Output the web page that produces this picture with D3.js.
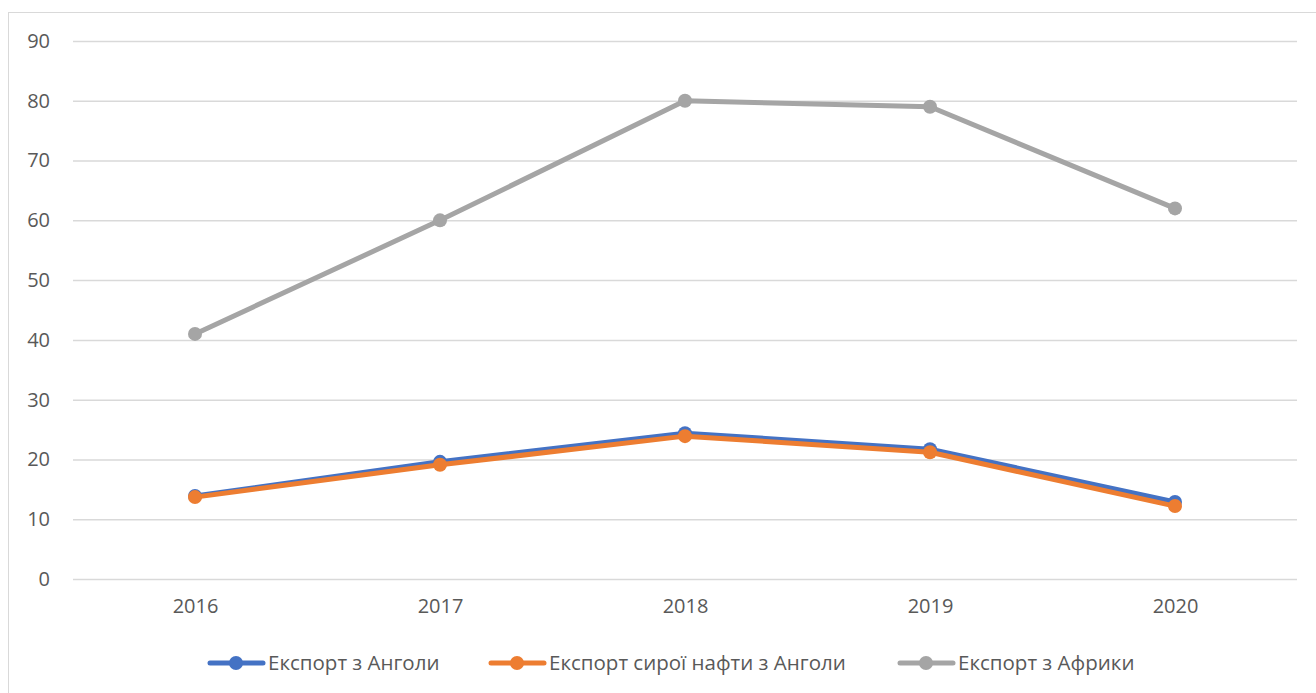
<!DOCTYPE html>
<html><head><meta charset="utf-8">
<script src="https://cdn.jsdelivr.net/npm/d3@7"></script>
<style>body{margin:0;background:#fff;} svg{display:block;}</style>
</head><body>
<svg id="c" width="1316" height="693"></svg>
<script>
const years = ["2016","2017","2018","2019","2020"];
const angola = [13.9, 19.6, 24.4, 21.7, 12.9];
const crude = [13.7, 19.1, 23.9, 21.2, 12.2];
const africa = [41, 60, 80, 79, 62];
const seriesNames = ["Експорт з Анголи","Експорт сирої нафти з Анголи","Експорт з Африки"];
const seriesColors = ["#4472C4","#ED7D31","#A5A5A5"];
const yTicks = [0,10,20,30,40,50,60,70,80,90];

const svg = d3.select("#c");
const font = "'Open Sans',sans-serif";
svg.append("rect").attr("x",8.5).attr("y",12.5).attr("width",1320).attr("height",690)
  .attr("fill","#fff").attr("stroke","#d9d9d9");

const x = d3.scalePoint().domain(years).range([195,1175]);
const y = d3.scaleLinear().domain([0,90]).range([579,41]);

const yAxis = svg.append("g").attr("transform","translate(73,0)")
  .call(d3.axisLeft(y).tickValues(yTicks).tickSize(-1224).tickPadding(23));
yAxis.select(".domain").remove();
yAxis.selectAll("line").attr("stroke","#d9d9d9").attr("stroke-width",1.5);
yAxis.selectAll("text").attr("fill","#595959").style("font-size","20px").style("font-family",font);

const xAxis = svg.append("g").attr("transform","translate(0,579)")
  .call(d3.axisBottom(x).tickSize(0).tickPadding(20));
xAxis.select(".domain").remove();
xAxis.selectAll("text").attr("fill","#595959").style("font-size","20px").style("font-family",font);

const data = [angola, crude, africa];
const line = d3.line().x((d,i)=>x(years[i])).y(d=>y(d));
data.forEach((s,k)=>{
  const g = svg.append("g");
  g.append("path").datum(s).attr("d",line).attr("fill","none")
    .attr("stroke",seriesColors[k]).attr("stroke-width",5).attr("stroke-linejoin","round").attr("stroke-linecap","round");
  g.selectAll("circle").data(s).enter().append("circle")
    .attr("cx",(d,i)=>x(years[i])).attr("cy",d=>y(d)).attr("r",7).attr("fill",seriesColors[k]);
});

const legX = [210, 491, 900];
const lg = svg.append("g");
seriesNames.forEach((n,k)=>{
  const g = lg.append("g").attr("transform",`translate(${legX[k]},663)`);
  g.append("line").attr("x1",0).attr("x2",53).attr("stroke",seriesColors[k]).attr("stroke-width",5).attr("stroke-linecap","round");
  g.append("circle").attr("cx",26).attr("r",7).attr("fill",seriesColors[k]);
  g.append("text").attr("x",58).attr("y",7).text(n).attr("fill","#595959")
    .style("font-size","20.5px").style("font-family",font);
});
</script>
</body></html>
